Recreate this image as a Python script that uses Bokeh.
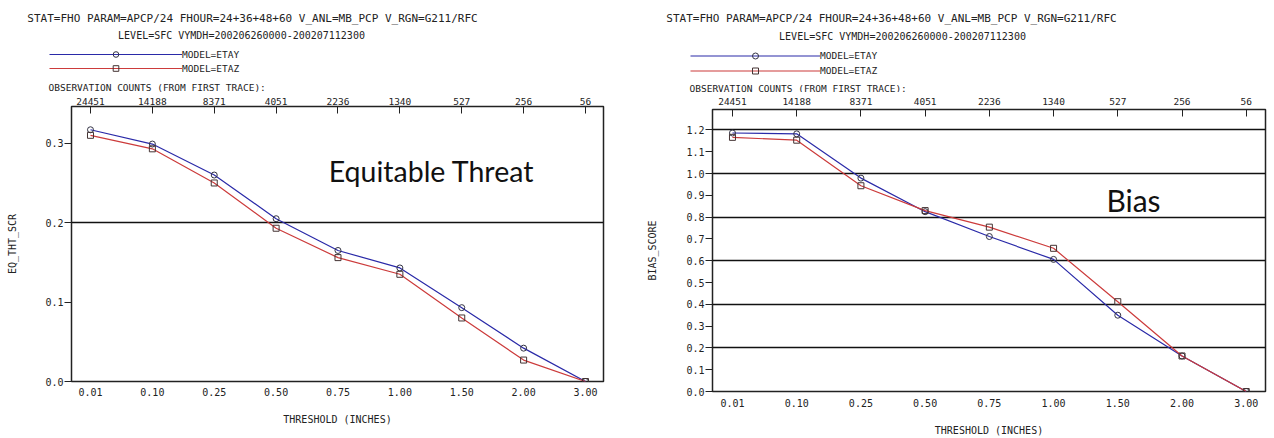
from bokeh.plotting import figure
from bokeh.models import Range1d, LinearAxis, FixedTicker, Label, Legend, LegendItem
from bokeh.layouts import row, column
from bokeh.embed import file_html
from bokeh.resources import INLINE

# ---------------- data ----------------
thresholds = ["0.01", "0.10", "0.25", "0.50", "0.75", "1.00", "1.50", "2.00", "3.00"]
obs_counts = ["24451", "14188", "8371", "4051", "2236", "1340", "527", "256", "56"]

ets_etay = [0.317, 0.299, 0.260, 0.205, 0.165, 0.143, 0.093, 0.042, 0.0]
ets_etaz = [0.310, 0.293, 0.250, 0.193, 0.156, 0.135, 0.080, 0.027, 0.0]

bias_etay = [1.186, 1.182, 0.979, 0.825, 0.711, 0.606, 0.350, 0.163, 0.0]
bias_etaz = [1.166, 1.153, 0.944, 0.830, 0.754, 0.657, 0.412, 0.163, 0.0]

ets_yticks = [0.0, 0.1, 0.2, 0.3]
ets_grid = [0.2]
bias_yticks = [0.0, 0.1, 0.2, 0.3, 0.4, 0.5, 0.6, 0.7, 0.8, 0.9, 1.0, 1.1, 1.2]
bias_grid = [0.2, 0.4, 0.6, 0.8, 1.0, 1.2]

title1 = "STAT=FHO PARAM=APCP/24 FHOUR=24+36+48+60 V_ANL=MB_PCP V_RGN=G211/RFC"
title2 = "LEVEL=SFC VYMDH=200206260000-200207112300"
obs_title = "OBSERVATION COUNTS (FROM FIRST TRACE):"
series_names = ["MODEL=ETAY", "MODEL=ETAZ"]

MONO = "DejaVu Sans Mono"
BLUE = "#2a2aa8"
RED = "#cc3b3b"
INK = "#222222"
TOTAL_H = 438


def add_series(p, s1, s2, visible=True):
    idx = list(range(len(thresholds)))
    l1 = p.line(idx, s1, line_color=BLUE, line_width=1.2, visible=visible)
    m1 = p.scatter(idx, s1, marker="circle", size=6, fill_color=None,
                   line_color="#333344", line_width=1, visible=visible)
    l2 = p.line(idx, s2, line_color=RED, line_width=1.2, visible=visible)
    m2 = p.scatter(idx, s2, marker="square", size=6, fill_color=None,
                   line_color="#443333", line_width=1, visible=visible)
    return l1, m1, l2, m2


def make_header(cfg):
    w, hh = cfg["width"], cfg["hh"]
    h = figure(width=w, height=hh, output_backend="svg", toolbar_location=None,
               x_range=Range1d(0, w), y_range=Range1d(hh, 0),
               min_border=0, x_axis_location=None, y_axis_location=None)
    h.outline_line_color = None
    h.grid.visible = False
    h.background_fill_color = "white"
    h.border_fill_color = "white"

    def lab(text, x, y, size, align):
        h.add_layout(Label(text=text, x=x, y=y, text_align=align, text_baseline="middle",
                           text_font=MONO, text_font_size=size, text_color=INK))

    lab(title1, cfg["t1"][0], cfg["t1"][1], "11px", "center")
    lab(title2, cfg["t2"][0], cfg["t2"][1], "10px", "center")
    lab(obs_title, cfg["obs"][0], cfg["obs"][1], "9.5px", "left")

    # legend samples: hidden renderers, the legend shows their glyphs
    l1, m1, l2, m2 = add_series(h, cfg["s1"], cfg["s2"], visible=False)
    leg = Legend(items=[LegendItem(label=series_names[0], renderers=[l1, m1]),
                        LegendItem(label=series_names[1], renderers=[l2, m2])],
                 location=cfg["legloc"], glyph_width=cfg["glyphw"], glyph_height=cfg["rowh"],
                 label_height=cfg["rowh"], label_standoff=0, spacing=0, padding=0, margin=0,
                 border_line_color=None, background_fill_alpha=0, inactive_fill_alpha=0,
                 label_text_font=MONO, label_text_font_size="9.5px", label_text_color=INK)
    h.add_layout(leg)
    return h


def make_main(cfg):
    idx = list(range(len(thresholds)))
    p = figure(width=cfg["width"], height=TOTAL_H - cfg["hh"], output_backend="svg",
               toolbar_location=None,
               x_range=Range1d(*cfg["xr"]), y_range=Range1d(*cfg["yr"]),
               min_border_left=cfg["bl"], min_border_right=cfg["br"],
               min_border_top=cfg["bt"], min_border_bottom=cfg["bb"])
    p.background_fill_color = "white"
    p.border_fill_color = "white"
    p.outline_line_color = INK
    p.outline_line_width = 1.5
    p.xgrid.visible = False
    p.ygrid.ticker = FixedTicker(ticks=cfg["grid"])
    p.ygrid.grid_line_color = "#111111"
    p.ygrid.grid_line_width = 1.3

    xa = p.xaxis[0]
    xa.ticker = FixedTicker(ticks=idx)
    xa.major_label_overrides = {i: t for i, t in enumerate(thresholds)}
    xa.axis_line_color = None
    xa.major_tick_in = 0
    xa.major_tick_out = 0
    xa.minor_tick_line_color = None
    xa.major_label_standoff = cfg["xstand"]
    xa.major_label_text_font = MONO
    xa.major_label_text_font_size = "10px"
    xa.major_label_text_color = INK
    xa.axis_label = "THRESHOLD (INCHES)"
    xa.axis_label_standoff = cfg["xlstand"]
    xa.axis_label_text_font = MONO
    xa.axis_label_text_font_size = "10px"
    xa.axis_label_text_font_style = "normal"
    xa.axis_label_text_color = INK

    ta = LinearAxis(ticker=FixedTicker(ticks=idx),
                    major_label_overrides={i: c for i, c in enumerate(obs_counts)})
    ta.axis_line_color = None
    ta.major_tick_in = 7
    ta.major_tick_out = 0
    ta.major_tick_line_color = INK
    ta.minor_tick_line_color = None
    ta.major_label_standoff = cfg["tstand"]
    ta.major_label_text_font = MONO
    ta.major_label_text_font_size = "9.5px"
    ta.major_label_text_color = INK
    p.add_layout(ta, "above")

    ya = p.yaxis[0]
    ya.ticker = FixedTicker(ticks=cfg["yticks"])
    ya.major_label_overrides = {v: f"{v:.1f}" for v in cfg["yticks"]}
    ya.axis_line_color = None
    ya.major_tick_in = 0
    ya.major_tick_out = 7
    ya.major_tick_line_color = INK
    ya.minor_tick_line_color = None
    ya.major_label_standoff = 1
    ya.major_label_text_font = MONO
    ya.major_label_text_font_size = "10px"
    ya.major_label_text_color = INK
    ya.axis_label = cfg["ylabel"]
    ya.axis_label_standoff = cfg["ylstand"]
    ya.axis_label_text_font = MONO
    ya.axis_label_text_font_size = "10px"
    ya.axis_label_text_font_style = "normal"
    ya.axis_label_text_color = INK

    add_series(p, cfg["s1"], cfg["s2"])

    p.add_layout(Label(text=cfg["big"], x=cfg["bigpos"][0], y=cfg["bigpos"][1],
                       x_units="screen", y_units="screen", text_align="center",
                       text_baseline="middle", text_font="Lato",
                       text_font_size=cfg["bigsize"], text_color="#111111"))
    return p


left_cfg = dict(
    width=640, hh=92, bl=71, br=37, bt=14, bb=57,
    xr=(-0.307, 8.291), yr=(0.0, 0.3463),
    grid=ets_grid, yticks=ets_yticks, s1=ets_etay, s2=ets_etaz,
    xstand=6, xlstand=15, ylstand=24, tstand=2,
    legloc=(49, 17), glyphw=133, rowh=14,
    t1=(252, 18), t2=(241, 35), obs=(48, 87),
    ylabel="EQ_THT_SCR",
    big="Equitable Threat", bigpos=(360, 211), bigsize="28.5px",
)
right_cfg = dict(
    width=634, hh=92, bl=72, br=9, bt=17, bb=47,
    xr=(-0.311, 8.30), yr=(0.0, 1.2938),
    grid=bias_grid, yticks=bias_yticks, s1=bias_etay, s2=bias_etaz,
    xstand=7, xlstand=15, ylstand=25, tstand=5,
    legloc=(50, 14), glyphw=130, rowh=15,
    t1=(251, 18), t2=(262, 36), obs=(49, 87.5),
    ylabel="BIAS_SCORE",
    big="Bias", bigpos=(421, 192), bigsize="30px",
)

# the header is wrapped in its own row so that its frame is not aligned with the plot's
layout = row(column(row(make_header(left_cfg)), make_main(left_cfg)),
             column(row(make_header(right_cfg)), make_main(right_cfg)))
open("out.html", "w").write(file_html(layout, INLINE))
